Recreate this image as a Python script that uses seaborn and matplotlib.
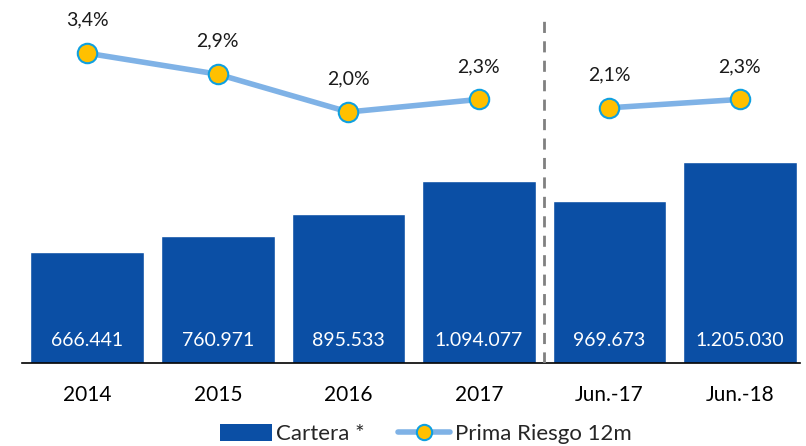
import matplotlib
matplotlib.use("Agg")
import matplotlib.pyplot as plt
import seaborn as sns
import pandas as pd
from matplotlib.lines import Line2D
from matplotlib.patches import Patch

categories = ["2014", "2015", "2016", "2017", "Jun.-17", "Jun.-18"]
cartera = [666441, 760971, 895533, 1094077, 969673, 1205030]
cartera_labels = ["666.441", "760.971", "895.533", "1.094.077", "969.673", "1.205.030"]
prima = [3.4, 2.9, 2.0, 2.3, 2.1, 2.3]
prima_labels = ["3,4%", "2,9%", "2,0%", "2,3%", "2,1%", "2,3%"]
segment = ["a", "a", "a", "a", "b", "b"]

sns.set_style("white")
plt.rcParams["font.family"] = ["Lato", "DejaVu Sans"]

bar_color = "#0B4FA5"
line_color = "#7FB2E6"
marker_face = "#FFC000"
marker_edge = "#0FA0E0"

fig = plt.figure(figsize=(8.06, 4.46), dpi=100)
ax = fig.add_axes([22 / 806, 1 - 363 / 446, (800 - 22) / 806, 363 / 446])

df = pd.DataFrame({"cat": categories, "cartera": cartera, "prima": prima,
                   "seg": segment, "pos": range(len(categories))})

sns.barplot(data=df, x="cat", y="cartera", color=bar_color, width=0.87,
            saturation=1, ax=ax)
ax.set_ylim(0, 363 * 6000)
ax.set_xlim(-0.5, 5.46)
for i, lab in enumerate(cartera_labels):
    ax.text(i, 6000 * 23, lab, ha="center", va="center",
            color="white", fontsize=14)

ax2 = ax.twinx()
sns.lineplot(data=df, x="pos", y="prima", units="seg", estimator=None,
             color=line_color, linewidth=4, marker="o", markersize=14,
             markerfacecolor=marker_face, markeredgecolor=marker_edge,
             markeredgewidth=1.5, ax=ax2, sort=False)
ax2.set_ylim(-167 / 42, 196 / 42)
for i, (v, lab) in enumerate(zip(prima, prima_labels)):
    ax2.text(i, v + 33 / 42, lab, ha="center", va="center",
             color="#1a1a1a", fontsize=14)

ax2.axvline(3.5, ymin=0, ymax=1 - 15 / 363, color="#808080",
            linestyle=(0, (4, 3)), linewidth=2)

for a in (ax, ax2):
    for s in ["top", "right", "left"]:
        a.spines[s].set_visible(False)
    a.set_ylabel("")
    a.set_yticks([])
    a.set_xlabel("")
ax2.spines["bottom"].set_visible(False)
ax.spines["bottom"].set_color("black")
ax.spines["bottom"].set_linewidth(1.2)
ax.set_xlim(-0.5, 5.46)
ax.set_xticks(range(len(categories)))
ax.set_xticklabels(categories)
ax.tick_params(axis="x", length=0, labelsize=15, pad=16, colors="black",
               labelbottom=True)
ax2.tick_params(axis="x", labelbottom=False, length=0)

handles = [Patch(facecolor=bar_color, edgecolor="none"),
           Line2D([0], [0], color=line_color, linewidth=4, marker="o",
                  markersize=11, markerfacecolor=marker_face,
                  markeredgecolor=marker_edge, markeredgewidth=1.5)]
fig.legend(handles, ["Cartera *", "Prima Riesgo 12m"], loc="center",
           bbox_to_anchor=(0.528, 1 - 434 / 446), ncol=2, frameon=False,
           fontsize=16, handlelength=2.35, handleheight=0.8,
           handletextpad=0.2, columnspacing=1.5)

fig.savefig("out.png", dpi=100)
